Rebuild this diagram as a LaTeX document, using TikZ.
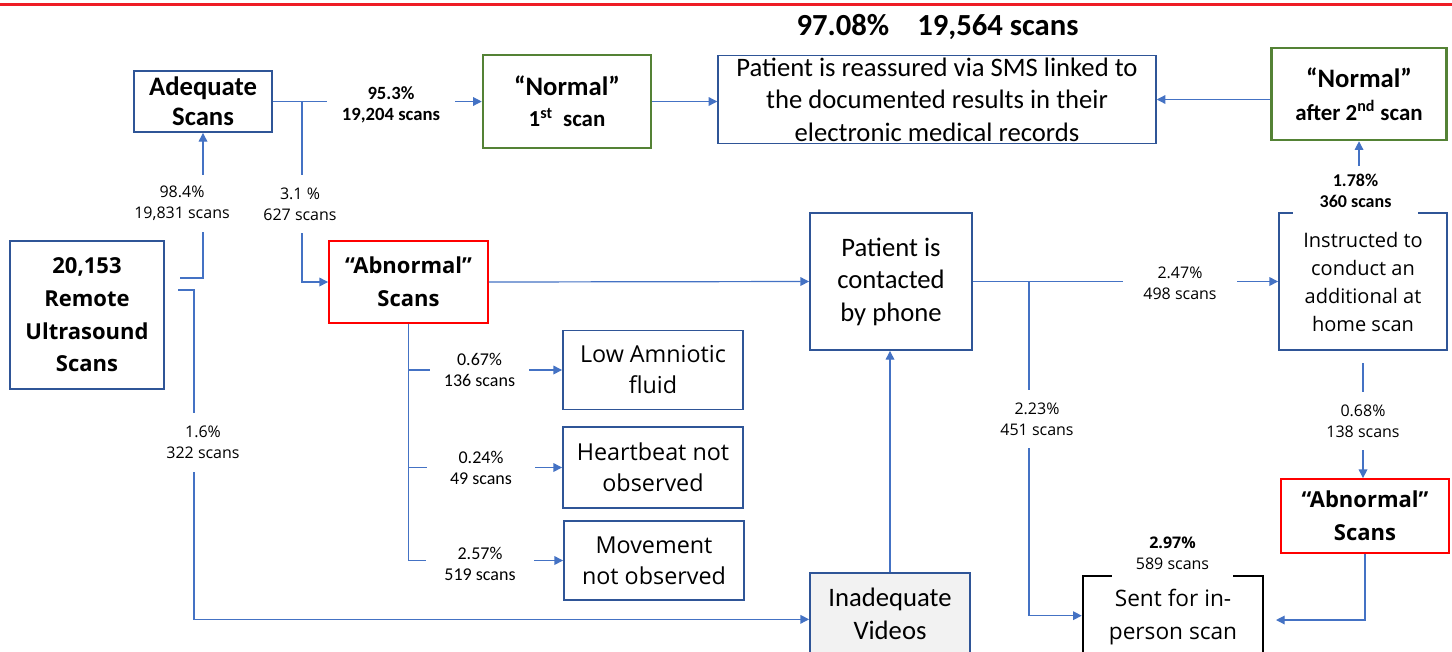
\documentclass[tikz,border=0pt]{standalone}
\usepackage{fontspec}
\setmainfont{Carlito}
\newfontfamily\seg{Open Sans}
\usetikzlibrary{arrows.meta}

\definecolor{boxblue}{HTML}{2F5597}
\definecolor{lineblue}{HTML}{4472C4}
\definecolor{boxgreen}{HTML}{548235}
\definecolor{boxred}{HTML}{FF0000}
\definecolor{topred}{HTML}{EE1C25}
\definecolor{lightgray}{HTML}{F2F2F2}

% font sizes (1px = 0.75pt)
\newcommand\fTitle{\fontsize{23}{28}\selectfont\bfseries}
\newcommand\fBox{\fontsize{20}{24.4}\selectfont}
\newcommand\fBoxB{\fontsize{20}{22.5}\selectfont\bfseries}
\newcommand\fSub{\fontsize{17.2}{22}\selectfont}
\newcommand\fSeg{\fontsize{15}{21}\selectfont\seg}
\newcommand\fSegL{\fontsize{17.5}{23.3}\selectfont\seg}
\newcommand\fSegB{\fontsize{16.5}{24.5}\selectfont\seg\bfseries}
\newcommand\fLab{\fontsize{12}{16}\selectfont\seg}
\newcommand\fLabC{\fontsize{13.5}{16}\selectfont}

\tikzset{
  every node/.style={align=center, inner sep=0pt, text=black},
  sz/.style 2 args={minimum width=#1*0.75pt, minimum height=#2*0.75pt},
  bx/.style={draw=boxblue, line width=1.4pt},
  thinbx/.style={draw=boxblue, line width=1.1pt},
  gbx/.style={draw=boxgreen, line width=1.9pt},
  rbx/.style={draw=boxred, line width=1.4pt},
  kbx/.style={draw=black, line width=1.9pt},
  lab/.style={fill=white, inner xsep=8pt, inner ysep=5pt},
  ln/.style={draw=lineblue, line width=0.9pt},
  arr/.style={ln, -{Triangle[length=6.5pt,width=6.5pt]}},
}

\begin{document}
\begin{tikzpicture}[x=0.75pt, y=-0.75pt]
\useasboundingbox (0,0) rectangle (1452,651);
\fill[white] (0,0) rectangle (1452,651);
\clip (0,0) rectangle (1452,651);

% top rule
\draw[topred, line width=2pt] (0,4.5) -- (1452,4.5);

% title
\node[font=\fTitle] (title) at (937.5,27) {97.08\%\hspace{21pt}19,564 scans};

% boxes
\node[bx, sz={138}{61}, font=\fBoxB] (adeq) at (203,101.5) {Adequate\\Scans};
\node[gbx, sz={168}{93}, font=\fBoxB] (norm1) at (567,101.5) {“Normal”\\[1pt]{\fSub 1\textsuperscript{st}\ \ scan}};
\node[thinbx, sz={438}{88}, font=\fBox] (reas) at (937,99.5)
  {Patient is reassured via SMS linked to\\the documented results in their\\electronic medical records};
\node[gbx, sz={175}{92}, font=\fBoxB] (norm2) at (1359,94) {“Normal”\\[2pt]{\fSub after 2\textsuperscript{nd} scan}};
\node[bx, sz={154}{148}, font=\fSegB] (remote) at (87,315) {20,153\\Remote\\Ultrasound\\Scans};
\node[rbx, sz={159}{82}, font=\fSegB] (abn1) at (408.5,282) {“Abnormal”\\Scans};
\node[bx, sz={162}{137}, font=\fBox] (phone) at (891,281.5) {Patient is\\contacted\\by phone};
\node[bx, sz={168}{137}, font=\fSeg] (instr) at (1363,281.5) {Instructed to\\conduct an\\additional at\\home scan};
\node[bx, sz={180}{79}, font=\fSegL] (low) at (653,370) {Low Amniotic\\fluid};
\node[bx, sz={180}{81}, font=\fSegL] (heart) at (653,467.5) {Heartbeat not\\observed};
\node[bx, sz={180}{79}, font=\fSegL] (move) at (654,560.5) {Movement\\not observed};
\node[bx, fill=lightgray, sz={160}{82}, font=\fBox] (inad) at (890,614) {Inadequate\\Videos};
\node[rbx, sz={168}{74}, font=\fSegB] (abn2) at (1365,516) {“Abnormal”\\Scans};
\node[kbx, sz={180}{82}, font=\fontsize{17}{24.75}\selectfont\seg] (sent) at (1173,617) {Sent for in-\\person scan};

% free ends and junctions
\coordinate (r1) at (180,278);
\coordinate (r2) at (178,290);
\path (adeq.east) ++(29,0) coordinate (j1);
\path (phone.east) ++(56,0) coordinate (j2);
\coordinate (i2) at (1363,363);
\coordinate (se) at (1276,620);

% connectors
\draw[arr] (r1) -| (adeq.south);
\draw[arr] (r2) -- ++(16,0) |- ([yshift=-4pt]inad.west);
\draw[arr] (adeq.east) -- (norm1.west);
\draw[arr] (j1) |- (abn1.west);
\draw[arr] (norm1.east) -- (norm1.east -| reas.west);
\draw[arr] (reas.east -| norm2.west) -- (reas.east);
\draw[arr] (abn1.east) -- (phone.west);
\draw[ln] (abn1.south) -- (abn1.south |- move.west);
\draw[arr] (abn1.south |- low.west) -- (low.west);
\draw[arr] (abn1.south |- heart.west) -- (heart.west);
\draw[arr] (abn1.south |- move.west) -- (move.west);
\draw[arr] (inad.north) -- (inad.north |- phone.south);
\draw[arr] (phone.east) -- (instr.west);
\draw[arr] (j2) |- ([yshift=1pt]sent.west);
\draw[arr] (instr.north -| norm2.south) -- (norm2.south);
\draw[arr] (i2) -- (i2 |- abn2.north);
\draw[arr] (abn2.south) |- (se);

% connector labels
\node[lab, font=\fLab, sz={110}{57}] (l984) at (182,203.5) {98.4\%\\19,831 scans};
\node[lab, font=\fLab, sz={96}{58}] (l31) at (300,204) {3.1 \%\\627 scans};
\node[lab, font=\fontsize{14}{16}\selectfont\bfseries, sz={128}{50}] (l953) at (391,105) {95.3\%\\19,204 scans};
\node[lab, font=\fLab, sz={96}{59}] (l16) at (203,442.5) {1.6\%\\322 scans};
\node[lab, font=\fLabC, sz={99}{50}] (l067) at (479.5,370) {0.67\%\\136 scans};
\node[lab, font=\fLabC, sz={108}{50}] (l024) at (481,468) {0.24\%\\49 scans};
\node[lab, font=\fLabC, sz={108}{50}] (l257) at (480,564) {2.57\%\\519 scans};
\node[lab, font=\fLab, sz={114}{50}] (l247) at (1180,283.5) {2.47\%\\498 scans};
\node[lab, font=\fLab, sz={90}{58}] (l223) at (1037,419) {2.23\%\\451 scans};
\node[lab, font=\fLab, sz={96}{58}] (l068) at (1363,421) {0.68\%\\138 scans};
\node[lab, font=\fLabC\bfseries, sz={125}{50}] (l178) at (1355.5,191) {1.78\%\\360 scans};
\node[lab, font=\fLab, sz={121}{52}] (l297) at (1172.5,553) {\textbf{2.97\%}\\589 scans};
\end{tikzpicture}
\end{document}
